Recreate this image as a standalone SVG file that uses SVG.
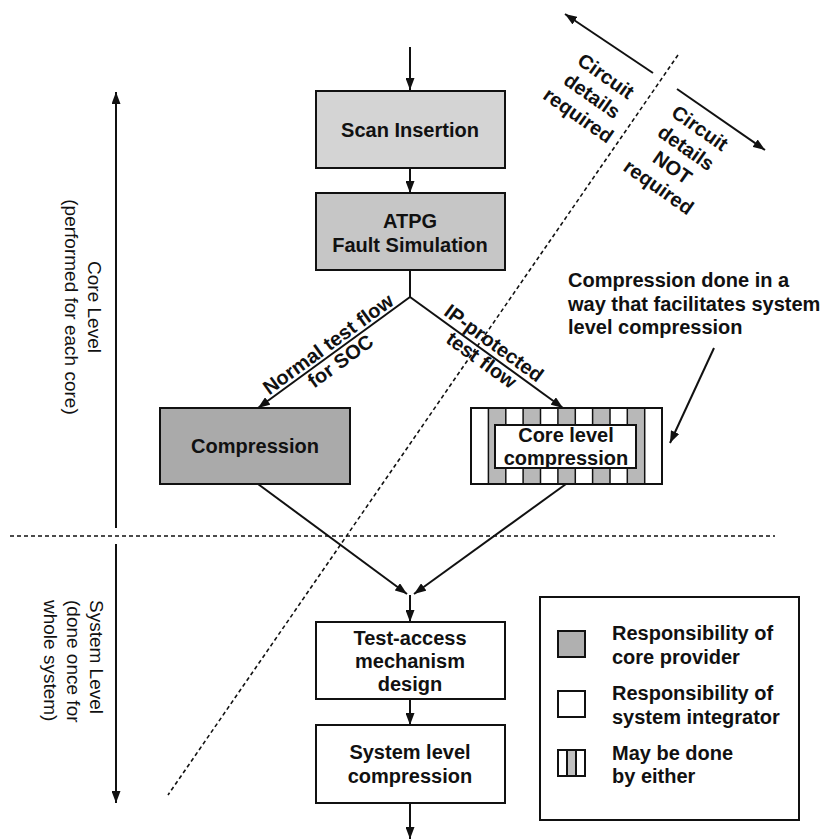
<svg xmlns="http://www.w3.org/2000/svg" width="824" height="840" viewBox="0 0 824 840">
<defs>
<marker id="ah" markerUnits="userSpaceOnUse" markerWidth="13" markerHeight="9" refX="12" refY="4.5" orient="auto">
<path d="M0,0 L12,4.5 L0,9 z" fill="#111"/>
</marker>
<style>
.box{stroke:#111;stroke-width:2}
.t{font-family:"Liberation Sans",Arial,Helvetica,sans-serif;font-weight:bold;font-size:20px;fill:#111}
.tl{font-family:"Liberation Sans",Arial,Helvetica,sans-serif;font-size:19px;fill:#111}
.c{text-anchor:middle}
.ln{stroke:#111;stroke-width:2;fill:none}
.arr{stroke:#111;stroke-width:2;fill:none;marker-end:url(#ah)}
.dash{stroke:#111;stroke-width:1.6;stroke-dasharray:4 3;fill:none}
</style>
</defs>
<rect width="824" height="840" fill="#ffffff"/>

<g id="dividers">
<line class="dash" x1="10" y1="536" x2="775" y2="536"/>
<line class="dash" x1="678" y1="55" x2="168" y2="795"/>
</g>

<g id="connectors">
<line class="arr" x1="410" y1="47" x2="410" y2="90"/>
<line class="arr" x1="410" y1="168" x2="410" y2="193"/>
<polyline class="ln" points="410,270 410,297"/>
<line class="arr" x1="410" y1="297" x2="258" y2="408"/>
<line class="arr" x1="410" y1="297" x2="563" y2="408"/>
<line class="arr" x1="258" y1="484" x2="407" y2="594"/>
<line class="arr" x1="566" y1="484" x2="414" y2="594"/>
<line class="arr" x1="410" y1="595" x2="410" y2="622"/>
<line class="arr" x1="410" y1="699" x2="410" y2="725"/>
<line class="arr" x1="410" y1="803" x2="410" y2="839"/>
<line class="arr" x1="714" y1="348" x2="670" y2="443"/>
<line class="arr" x1="653" y1="73" x2="565" y2="14"/>
<line class="arr" x1="677" y1="89" x2="765" y2="150"/>
<line class="arr" x1="116" y1="528" x2="116" y2="92"/>
<line class="arr" x1="116" y1="544" x2="116" y2="803"/>
</g>

<g id="level-labels">
<text class="tl c" transform="translate(88,307) rotate(90)"><tspan x="0" y="0">Core Level</tspan><tspan x="0" y="23">(performed for each core)</tspan></text>
<text class="tl" transform="translate(90,600) rotate(90)"><tspan x="0" y="0">System Level</tspan><tspan x="0" y="23">(done once for</tspan><tspan x="0" y="46">whole system)</tspan></text>
</g>

<g id="circuit-labels">
<text class="t c" transform="translate(606,76) rotate(35)"><tspan x="0" y="7">Circuit</tspan><tspan x="0" y="31">details</tspan><tspan x="0" y="55">required</tspan></text>
<text class="t c" transform="translate(700,128) rotate(35)"><tspan x="0" y="7">Circuit</tspan><tspan x="0" y="31">details</tspan><tspan x="0" y="55">NOT</tspan><tspan x="0" y="79">required</tspan></text>
</g>

<g id="flow-labels">
<text class="t c" transform="translate(328,344) rotate(-36)"><tspan x="0" y="7">Normal test flow</tspan><tspan x="0" y="28">for SOC</tspan></text>
<text class="t c" transform="translate(494,343) rotate(36)"><tspan x="0" y="7">IP-protected</tspan><tspan x="0" y="28">test flow</tspan></text>
</g>

<g id="scan">
<rect class="box" x="316" y="91" width="189" height="77" fill="#d4d4d4"/>
<text class="t c" x="410" y="137">Scan Insertion</text>
</g>

<g id="atpg">
<rect class="box" x="316" y="193" width="189" height="77" fill="#c6c6c6"/>
<text class="t c" x="410" y="228">ATPG</text>
<text class="t c" x="410" y="252">Fault Simulation</text>
</g>

<g id="compression">
<rect class="box" x="160" y="408" width="190" height="76" fill="#aaaaaa"/>
<text class="t c" x="255" y="453">Compression</text>
</g>

<g id="core-compression">
<rect x="471" y="408" width="191" height="76" fill="#ffffff"/>
<g fill="#b8b8b8" stroke="#111" stroke-width="1.5">
<rect x="488.4" y="408" width="17.4" height="76"/>
<rect x="523.1" y="408" width="17.4" height="76"/>
<rect x="557.9" y="408" width="17.4" height="76"/>
<rect x="592.6" y="408" width="17.4" height="76"/>
<rect x="627.3" y="408" width="17.4" height="76"/>
</g>
<rect class="box" x="471" y="408" width="191" height="76" fill="none"/>
<rect class="box" x="495" y="425" width="141" height="43" fill="#ffffff"/>
<text class="t c" x="566" y="442">Core level</text>
<text class="t c" x="566" y="465">compression</text>
</g>

<g id="note">
<text class="t" x="568" y="287">Compression done in a</text>
<text class="t" x="568" y="311">way that facilitates system</text>
<text class="t" x="568" y="334">level compression</text>
</g>

<g id="tam">
<rect class="box" x="316" y="622" width="189" height="77" fill="#ffffff"/>
<text class="t c" x="410" y="645">Test-access</text>
<text class="t c" x="410" y="668">mechanism</text>
<text class="t c" x="410" y="691">design</text>
</g>

<g id="syscomp">
<rect class="box" x="316" y="725" width="189" height="78" fill="#ffffff"/>
<text class="t c" x="410" y="759">System level</text>
<text class="t c" x="410" y="783">compression</text>
</g>

<g id="legend">
<rect class="box" x="540" y="597" width="259" height="223" fill="#ffffff"/>
<rect class="box" x="558" y="631" width="27" height="26" fill="#b0b0b0"/>
<text class="t" x="612" y="640">Responsibility of</text>
<text class="t" x="612" y="664">core provider</text>
<rect class="box" x="558" y="691" width="27" height="26" fill="#ffffff"/>
<text class="t" x="612" y="700">Responsibility of</text>
<text class="t" x="612" y="724">system integrator</text>
<rect x="567" y="750" width="9" height="26" fill="#c0c0c0"/>
<line class="ln" x1="567" y1="750" x2="567" y2="776"/>
<line class="ln" x1="576" y1="750" x2="576" y2="776"/>
<rect class="box" x="558" y="750" width="27" height="26" fill="none"/>
<text class="t" x="612" y="760">May be done</text>
<text class="t" x="612" y="783">by either</text>
</g>
</svg>
